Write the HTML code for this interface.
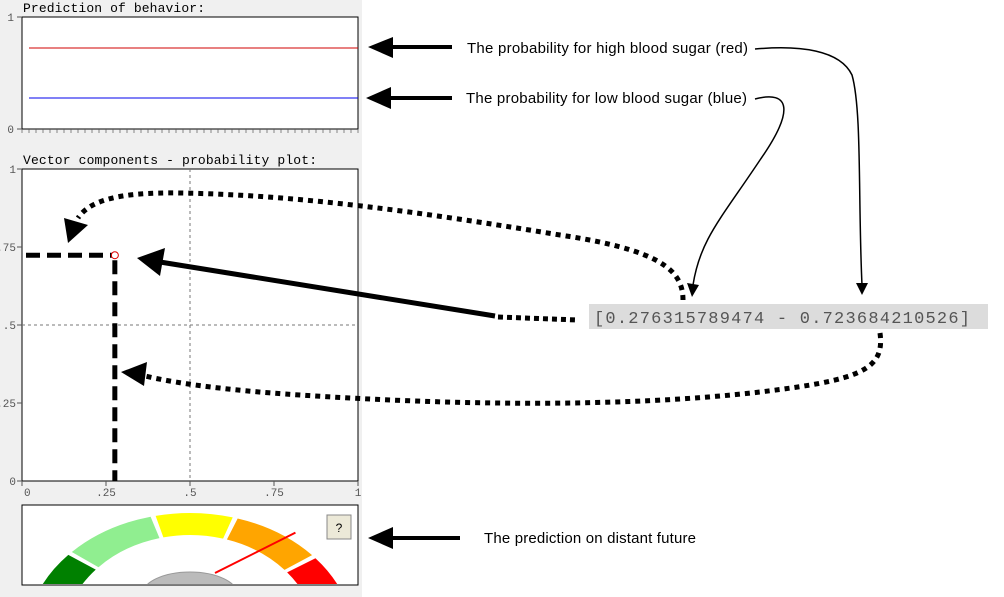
<!DOCTYPE html>
<html><head><meta charset="utf-8"><style>
body{margin:0;width:1004px;height:597px;overflow:hidden;background:#fff;font-family:"Liberation Sans",sans-serif}
svg{display:block;overflow:hidden}
</style></head><body>
<svg width="1004" height="597" viewBox="0 0 1004 597" xmlns="http://www.w3.org/2000/svg">
<rect x="0" y="0" width="362" height="597" fill="#f0f0f0"/>
<g font-family="Liberation Mono, monospace" font-size="13" fill="#000">
<text x="23" y="12" textLength="182">Prediction of behavior:</text>
<text x="23" y="164" textLength="294">Vector components - probability plot:</text>
</g>
<g id="topPlot"></g>
<g id="midPlot"></g>
<g id="gaugeG"></g>
<rect x="589" y="304" width="399" height="25" fill="#dcdcdc"/>
<text x="594" y="323" textLength="376" font-family="Liberation Mono, monospace" font-size="17" fill="#555">[0.276315789474 - 0.723684210526]</text>
<g font-size="15" fill="#000">
<text x="467" y="53" textLength="281">The probability for high blood sugar (red)</text>
<text x="466" y="103" textLength="281">The probability for low blood sugar (blue)</text>
<text x="484" y="543" textLength="212">The prediction on distant future</text>
</g>
<g>
<line x1="452" y1="47" x2="385" y2="47" stroke="#000" stroke-width="4"/><polygon points="368,47 393,37 393,58" fill="#000"/>
<line x1="452" y1="98" x2="385" y2="98" stroke="#000" stroke-width="4"/><polygon points="366,98 391,87 391,109" fill="#000"/>
<line x1="460" y1="538" x2="385" y2="538" stroke="#000" stroke-width="4"/><polygon points="368,538 393,527 393,549" fill="#000"/>
<path d="M755,49 C800,45 840,50 852,75 C862,110 858,200 862,285" fill="none" stroke="#000" stroke-width="1.5"/><polygon points="856,283 868,283 862,295" fill="#000"/>
<path d="M755,99 C790,90 795,110 760,160 C720,220 700,240 693,285" fill="none" stroke="#000" stroke-width="1.5"/><polygon points="687,283 699,285 692,297" fill="#000"/>
<path d="M495,316 L160,262" stroke="#000" stroke-width="5"/><polygon points="137,258 165,248 160,276" fill="#000"/>
<path d="M498,317 L578,320" stroke="#000" stroke-width="5" stroke-dasharray="5 4"/>
<path d="M683,300 C683,270 660,250 560,235 C420,212 300,195 180,193 C120,192 90,200 78,218" fill="none" stroke="#000" stroke-width="5" stroke-dasharray="5 5"/>
<polygon points="68,243 64,218 88,225" fill="#000"/>
<path d="M880,333 C885,370 860,380 760,392 C620,408 450,405 300,395 C220,390 170,382 145,376" fill="none" stroke="#000" stroke-width="5" stroke-dasharray="5 5"/>
<polygon points="121,372 147,362 144,386" fill="#000"/>
</g>
</svg>
<script>
const NS="http://www.w3.org/2000/svg";
// data
const predictionSeries=["high","low"];
const predictionValues=[0.7237,0.2763];
const predictionColors=["#d00000","#0000ee"];
const pointX=[0.276315789474];
const pointY=[0.723684210526];
const midTicks=[0,0.25,0.5,0.75,1];
const midTickLabels=["0",".25",".5",".75","1"];
const gaugeValue=0.896;
function mk(p,t,a){const e=document.createElementNS(NS,t);for(const k in a)e.setAttribute(k,a[k]);p.appendChild(e);return e;}
// top plot
const topG=document.getElementById('topPlot');
const tx0=22,tx1=358,ty0=17,ty1=129;
const tyS=v=>ty1-v*(ty1-ty0);
const tb=mk(topG,'rect',{x:tx0,y:ty0,width:tx1-tx0,height:ty1-ty0,fill:'#fff',stroke:'#000','stroke-width':1});


predictionValues.forEach((v,i)=>{const l=mk(topG,'line',{x1:29,x2:tx1,y1:tyS(v),y2:tyS(v),stroke:predictionColors[i],'stroke-width':1});

});
for(let i=0;i<=48;i++){const x=tx0+i*(tx1-tx0)/48;mk(topG,'line',{x1:x,x2:x,y1:ty1,y2:ty1+4,stroke:'#555','stroke-width':0.7});}
[[1,'1'],[0,'0']].forEach(([v,s])=>{mk(topG,'line',{x1:tx0-5,x2:tx0,y1:tyS(v),y2:tyS(v),stroke:'#555'});const t=mk(topG,'text',{x:tx0-8,y:tyS(v)+4,'text-anchor':'end','font-family':'Liberation Mono, monospace','font-size':11,fill:'#555'});t.textContent=s;

});
// middle plot
const midG=document.getElementById('midPlot');
const mx0=22,mx1=358,my0=169,my1=481;
const xS=v=>mx0+v*(mx1-mx0),yS=v=>my1-v*(my1-my0);
const mb=mk(midG,'rect',{x:mx0,y:my0,width:mx1-mx0,height:my1-my0,fill:'#fff',stroke:'#000'});


mk(midG,'line',{x1:xS(0.5),x2:xS(0.5),y1:my0,y2:my1,stroke:'#777','stroke-dasharray':'3 3'});
mk(midG,'line',{x1:mx0,x2:mx1,y1:yS(0.5),y2:yS(0.5),stroke:'#777','stroke-dasharray':'3 3'});
midTicks.forEach((v,i)=>{
 mk(midG,'line',{x1:xS(v),x2:xS(v),y1:my1,y2:my1+5,stroke:'#555'});
 const t=mk(midG,'text',{x:xS(v)+(i==0?2:0),y:my1+15,'text-anchor':i==0?'start':'middle','font-family':'Liberation Mono, monospace','font-size':11,fill:'#555'});t.textContent=midTickLabels[i];
 
 
 mk(midG,'line',{x1:mx0-5,x2:mx0,y1:yS(v),y2:yS(v),stroke:'#555'});
 const u=mk(midG,'text',{x:mx0-6,y:yS(v)+4,'text-anchor':'end','font-family':'Liberation Mono, monospace','font-size':11,fill:'#555'});u.textContent=midTickLabels[i];
 
 
});
pointX.forEach((px,i)=>{const py=pointY[i];
 mk(midG,'line',{x1:26,x2:xS(px)-3,y1:yS(py),y2:yS(py),stroke:'#000','stroke-width':5,'stroke-dasharray':'14 7'});
 mk(midG,'line',{x1:xS(px),x2:xS(px),y1:yS(py)+5,y2:my1,stroke:'#000','stroke-width':5,'stroke-dasharray':'14 7'});
 const c=mk(midG,'circle',{cx:xS(px),cy:yS(py),r:3.5,fill:'none',stroke:'#e00000','stroke-width':1});
 
 
});
// gauge
const gG=document.getElementById('gaugeG');
mk(gG,'rect',{x:22,y:505,width:336,height:80,fill:'#fff',stroke:'#000'});
const cl=mk(gG,'clipPath',{id:'gc'});mk(cl,'rect',{x:23,y:506,width:334,height:78});
const gg=mk(gG,'g',{'clip-path':'url(#gc)'});
const gcx=190,gcy=640,Rx=164,Ry=127,rx=127,ry=105;
const cols=['#008000','#90ee90','#ffff00','#ffa500','#ff0000'];
const bnd=[-90,-47,-13,16,49,90];
const pt=(a,ax,ay)=>[gcx+ax*Math.sin(a*Math.PI/180),gcy-ay*Math.cos(a*Math.PI/180)];
cols.forEach((c,i)=>{const a0=bnd[i]+0.9,a1=bnd[i+1]-0.9;const p0=pt(a0,Rx,Ry),p1=pt(a1,Rx,Ry),p2=pt(a1,rx,ry),p3=pt(a0,rx,ry);
 const p=mk(gg,'path',{d:`M${p0} A${Rx},${Ry} 0 0 1 ${p1} L${p2} A${rx},${ry} 0 0 0 ${p3}Z`,fill:c});
 
 });
mk(gg,'ellipse',{cx:190,cy:595,rx:48,ry:23,fill:'#bbb',stroke:'#999'});
const na=-80+gaugeValue*160;
const n0=[215,573];const rad=na*Math.PI/180;
const nd=mk(gg,'line',{x1:n0[0],y1:n0[1],x2:n0[0]+90*Math.sin(rad),y2:n0[1]-90*Math.cos(rad),stroke:'#f00','stroke-width':2});


const hb=mk(gG,'rect',{x:327,y:515,width:24,height:24,fill:'#ece9d8',stroke:'#888'});


const ht=mk(gG,'text',{x:339,y:532,'text-anchor':'middle','font-size':12,fill:'#000'});ht.textContent='?';
</script>
</body></html>
